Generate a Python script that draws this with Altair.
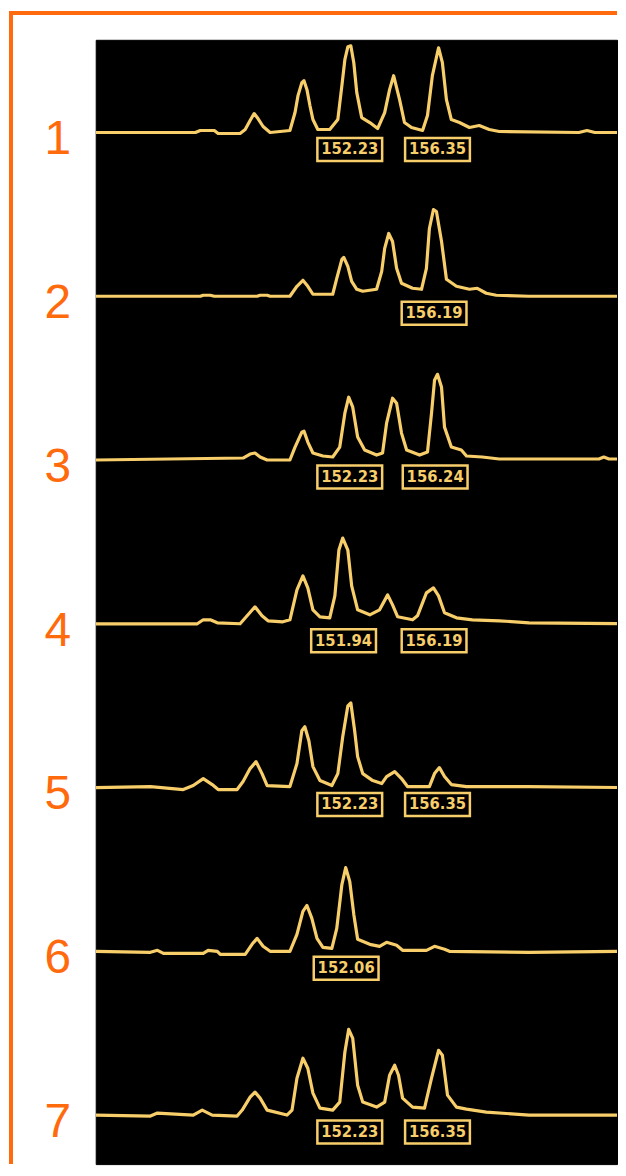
import altair as alt
import pandas as pd

# ---- data (fragment size in bp, relative fluorescence) ----
LANES = [1, 2, 3, 4, 5, 6, 7]

SIZE_1 = [140.30, 144.98, 145.21, 145.87, 146.05, 147.08, 147.32, 147.55, 147.74, 147.92, 148.16, 148.49,
          149.42, 149.66, 149.80, 149.98, 150.08, 150.22, 150.36, 150.50, 150.73, 151.29, 151.67, 151.86,
          152.00, 152.14, 152.28, 152.42, 152.56, 152.79, 153.17, 153.54, 153.87, 154.10, 154.29, 154.57,
          154.80, 155.13, 155.65, 155.88, 156.11, 156.40, 156.58, 156.77, 157.00, 157.38, 157.85, 158.31,
          158.78, 159.25, 162.99, 163.37, 163.74, 165.10]
RFU_1 = [0, 0, 2, 2, -1, -1, 3, 12, 19, 14, 6, 0,
         2, 20, 37, 50, 52, 43, 27, 13, 3, 3, 13, 47,
         73, 86, 87, 70, 40, 15, 10, 4, 20, 43, 57, 33,
         10, 5, 2, 17, 57, 85, 70, 33, 13, 10, 5, 7,
         3, 1, 0, 2, 0, 0]

SIZE_2 = [140.30, 145.21, 145.35, 145.68, 145.87, 147.88, 148.02, 148.35, 148.49, 149.42, 149.75, 150.03,
          150.26, 150.50, 151.43, 151.62, 151.86, 151.95, 152.14, 152.32, 152.56, 152.84, 153.49, 153.73,
          153.87, 154.06, 154.24, 154.43, 154.66, 155.18, 155.60, 155.83, 155.97, 156.16, 156.30, 156.54,
          156.77, 157.24, 157.85, 158.22, 158.64, 159.11, 160.65, 165.10]
RFU_2 = [0, 0, 1, 1, 0, 0, 1, 1, 0, 0, 10, 16,
         10, 2, 2, 18, 37, 39, 30, 15, 7, 5, 7, 25,
         48, 63, 55, 28, 13, 8, 7, 28, 68, 87, 85, 55,
         17, 10, 7, 8, 3, 1, 0, 0]

SIZE_3 = [140.30, 147.22, 147.55, 147.78, 148.02, 148.35, 149.42, 149.66, 149.98, 150.08, 150.26, 150.50,
          150.97, 151.43, 151.76, 152.00, 152.18, 152.37, 152.60, 152.93, 153.49, 153.77, 153.96, 154.24,
          154.43, 154.66, 154.90, 155.51, 155.88, 156.07, 156.21, 156.35, 156.54, 156.68, 157.00, 157.47,
          157.71, 158.45, 159.25, 163.93, 164.16, 164.40, 165.10]
RFU_3 = [0, 2, 6, 7, 3, 0, 0, 13, 28, 29, 18, 7,
         4, 3, 13, 47, 63, 53, 23, 10, 5, 7, 37, 62,
         57, 27, 10, 5, 8, 47, 80, 86, 73, 33, 13, 10,
         4, 3, 1, 1, 3, 1, 1]

SIZE_4 = [140.30, 145.07, 145.35, 145.68, 146.01, 147.08, 147.41, 147.78, 148.11, 148.39, 149.09, 149.42,
          149.75, 150.03, 150.26, 150.50, 150.83, 151.29, 151.53, 151.72, 151.90, 152.14, 152.32, 152.60,
          153.17, 153.63, 154.01, 154.24, 154.48, 155.18, 155.41, 155.83, 156.16, 156.40, 156.68, 157.24,
          157.99, 159.25, 160.65, 165.10]
RFU_4 = [0, 0, 4, 4, 1, 0, 8, 17, 8, 3, 2, 4,
         34, 48, 36, 14, 7, 6, 28, 74, 86, 74, 38, 14,
         9, 14, 29, 19, 7, 4, 8, 31, 36, 28, 11, 6,
         4, 3, 1, 0]

SIZE_5 = [140.30, 142.87, 144.41, 144.88, 145.35, 145.77, 146.05, 146.94, 147.22, 147.55, 147.83, 148.11,
          148.35, 149.42, 149.75, 149.98, 150.12, 150.31, 150.50, 150.83, 151.39, 151.67, 151.90, 152.14,
          152.28, 152.46, 152.60, 152.84, 153.31, 153.73, 153.96, 154.34, 154.66, 154.94, 155.97, 156.21,
          156.44, 156.68, 157.00, 157.71, 160.65, 165.10]
RFU_5 = [0, 1, -2, 2, 9, 3, -2, -2, 6, 19, 26, 14,
         2, 1, 24, 57, 61, 47, 21, 7, 2, 14, 51, 82,
         85, 57, 31, 14, 7, 4, 11, 16, 9, 1, 1, 14,
         20, 11, 3, 1, 1, 0]

SIZE_6 = [140.30, 142.87, 143.20, 143.48, 145.35, 145.58, 146.01, 146.15, 147.32, 147.64, 147.88, 148.16,
          148.49, 149.42, 149.75, 150.03, 150.22, 150.45, 150.69, 150.97, 151.39, 151.62, 151.86, 152.04,
          152.23, 152.42, 152.60, 153.17, 153.63, 153.96, 154.43, 154.71, 155.83, 156.21, 156.68, 156.91,
          160.65, 165.10]
RFU_6 = [0, -1, 1, -2, -2, 1, 0, -3, -3, 7, 13, 5,
         0, 0, 17, 40, 46, 33, 13, 4, 3, 23, 67, 84,
         70, 37, 12, 7, 5, 9, 6, 1, 1, 5, 2, 0,
         -1, 0]

SIZE_7 = [140.30, 142.87, 143.20, 144.88, 145.30, 145.77, 146.94, 147.18, 147.55, 147.78, 148.02, 148.35,
          149.28, 149.52, 149.75, 150.03, 150.26, 150.50, 150.83, 151.43, 151.76, 152.00, 152.18, 152.37,
          152.60, 152.84, 153.49, 153.87, 154.10, 154.34, 154.52, 154.71, 155.18, 155.74, 156.07, 156.40,
          156.58, 156.82, 157.24, 157.71, 158.64, 160.65, 165.10]
RFU_7 = [0, -1, 2, 0, 5, 0, -1, 5, 18, 23, 17, 5,
         0, 5, 37, 57, 47, 22, 7, 5, 13, 63, 86, 77,
         30, 13, 8, 13, 40, 50, 40, 17, 8, 7, 37, 65,
         60, 20, 8, 6, 3, 0, 0]

SIZES = [SIZE_1, SIZE_2, SIZE_3, SIZE_4, SIZE_5, SIZE_6, SIZE_7]
RFUS = [RFU_1, RFU_2, RFU_3, RFU_4, RFU_5, RFU_6, RFU_7]

# called peak sizes shown in the boxes
LABEL_LANE = [1, 1, 2, 3, 3, 4, 4, 5, 5, 6, 7, 7]
LABEL_SIZE = [152.23, 156.35, 156.19, 152.23, 156.24, 151.94, 156.19, 152.23, 156.35, 152.06, 152.23, 156.35]

# ---- styling ----
ORANGE = "#FF6A0D"
YELLOW = "#F7CE6A"
LANE_STEP = 164.3
BOX_PATH = "M-1.413,-0.5H1.413V0.5H-1.413Z"
VIEW_W, VIEW_H = 523, 1128

traces = pd.concat(
    [pd.DataFrame({"lane": lane, "size": s, "rfu": r}) for lane, s, r in zip(LANES, SIZES, RFUS)],
    ignore_index=True,
)
labels = pd.DataFrame({"lane": LABEL_LANE, "size": LABEL_SIZE,
                       "text": [f"{v:.2f}" for v in LABEL_SIZE]})
lanes = pd.DataFrame({"lane": LANES})

xs = alt.Scale(domain=[140.30, 164.78], nice=False, zero=False)
ys = alt.Scale(domain=[-1035, 93], nice=False, zero=False)
offset = f"{LANE_STEP} * (datum.lane - 1)"

lines = alt.Chart(traces).transform_calculate(
    ypos=f"datum.rfu - {offset}"
).mark_line(color=YELLOW, strokeWidth=3.2, strokeJoin="round", clip=True).encode(
    x=alt.X("size:Q", scale=xs, axis=None),
    y=alt.Y("ypos:Q", scale=ys, axis=None),
    detail="lane:N",
)

boxes = alt.Chart(labels).transform_calculate(
    ypos=f"-17 - {offset}"
).mark_point(shape=BOX_PATH, size=2116, filled=False, color=YELLOW, strokeWidth=2.5, opacity=1).encode(
    x=alt.X("size:Q", scale=xs, axis=None),
    y=alt.Y("ypos:Q", scale=ys, axis=None),
)

box_text = alt.Chart(labels).transform_calculate(
    ypos=f"-17 - {offset}"
).mark_text(color=YELLOW, font="DejaVu Sans Condensed, Liberation Sans Narrow, DejaVu Sans",
            fontWeight="bold", fontSize=16.5, align="center", baseline="middle").encode(
    x=alt.X("size:Q", scale=xs, axis=None),
    y=alt.Y("ypos:Q", scale=ys, axis=None),
    text="text:N",
)

lane_numbers = alt.Chart(lanes).transform_calculate(
    ypos=f"0 - {offset}"
).mark_text(color=ORANGE, font="Liberation Sans, Arial, sans-serif", fontSize=48,
            align="center", baseline="alphabetic", dy=22).encode(
    x=alt.value(-38),
    y=alt.Y("ypos:Q", scale=ys, axis=None),
    text="lane:N",
)

frame_df = pd.DataFrame({"k": [0]})
frame_left = alt.Chart(frame_df).mark_rule(color=ORANGE, strokeWidth=4, strokeCap="square").encode(
    x=alt.value(-85), y=alt.value(-27), y2=alt.value(1126)
)
frame_top = alt.Chart(frame_df).mark_rule(color=ORANGE, strokeWidth=4, strokeCap="square").encode(
    x=alt.value(-85), x2=alt.value(VIEW_W - 2), y=alt.value(-27)
)

chart = alt.layer(lines, boxes, box_text, lane_numbers, frame_left, frame_top).properties(
    width=VIEW_W, height=VIEW_H, padding=0, background="white"
).configure_view(fill="black", stroke="black")

chart.save("out.html", embed_options={"renderer": "svg", "actions": False})
